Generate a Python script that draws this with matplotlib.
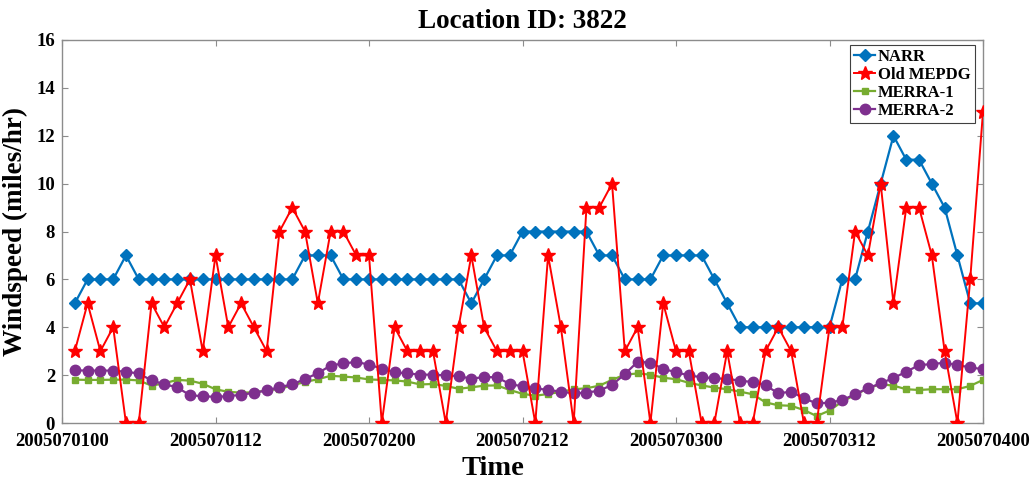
import matplotlib.pyplot as plt
import numpy as np

plt.rcParams['font.family'] = ['Liberation Serif', 'DejaVu Serif']
plt.rcParams['font.weight'] = 'bold'

# hourly windspeed, hours 1..72 after 2005070100
hours = np.arange(1, 73)

narr = [5, 6, 6, 6, 7, 6, 6, 6, 6, 6, 6, 6, 6, 6, 6, 6, 6, 6, 7, 7, 7, 6, 6, 6,
        6, 6, 6, 6, 6, 6, 6, 5, 6, 7, 7, 8, 8, 8, 8, 8, 8, 7, 7, 6, 6, 6, 7, 7,
        7, 7, 6, 5, 4, 4, 4, 4, 4, 4, 4, 4, 6, 6, 8, 10, 12, 11, 11, 10, 9, 7, 5, 5]

old_mepdg = [3, 5, 3, 4, 0, 0, 5, 4, 5, 6, 3, 7, 4, 5, 4, 3, 8, 9, 8, 5, 8, 8, 7, 7,
             0, 4, 3, 3, 3, 0, 4, 7, 4, 3, 3, 3, 0, 7, 4, 0, 9, 9, 10, 3, 4, 0, 5, 3,
             3, 0, 0, 3, 0, 0, 3, 4, 3, 0, 0, 4, 4, 8, 7, 10, 5, 9, 9, 7, 3, 0, 6, 13]

merra1 = [1.81, 1.80, 1.80, 1.81, 1.81, 1.78, 1.56, 1.66, 1.80, 1.77, 1.64, 1.41,
          1.30, 1.27, 1.28, 1.36, 1.42, 1.58, 1.71, 1.83, 1.97, 1.94, 1.90, 1.82,
          1.80, 1.78, 1.73, 1.61, 1.63, 1.55, 1.43, 1.49, 1.56, 1.57, 1.38, 1.22,
          1.14, 1.21, 1.30, 1.41, 1.45, 1.56, 1.80, 2.02, 2.07, 2.02, 1.89, 1.83,
          1.68, 1.57, 1.48, 1.41, 1.31, 1.20, 0.86, 0.74, 0.72, 0.54, 0.29, 0.52,
          0.90, 1.17, 1.45, 1.62, 1.56, 1.41, 1.38, 1.41, 1.41, 1.41, 1.55, 1.80]

merra2 = [2.20, 2.19, 2.19, 2.19, 2.14, 2.07, 1.78, 1.62, 1.49, 1.16, 1.12, 1.09,
          1.12, 1.18, 1.26, 1.36, 1.50, 1.61, 1.84, 2.08, 2.40, 2.49, 2.55, 2.44,
          2.27, 2.12, 2.07, 2.02, 2.02, 1.99, 1.96, 1.85, 1.92, 1.91, 1.63, 1.53,
          1.45, 1.38, 1.31, 1.24, 1.27, 1.35, 1.59, 2.04, 2.56, 2.52, 2.26, 2.12,
          1.99, 1.91, 1.87, 1.84, 1.77, 1.71, 1.57, 1.24, 1.31, 1.03, 0.82, 0.85,
          0.96, 1.20, 1.45, 1.66, 1.88, 2.14, 2.42, 2.46, 2.52, 2.41, 2.33, 2.24]

tick_pos = [0, 12, 24, 36, 48, 60, 72]
tick_labels = ['2005070100', '2005070112', '2005070200', '2005070212',
               '2005070300', '2005070312', '2005070400']

fig = plt.figure(figsize=(10.36, 4.84), dpi=100)
ax = fig.add_axes([62 / 1036, 61 / 484, 921 / 1036, 383 / 484])

ax.plot(hours, narr, color='#0072BD', marker='D', markersize=6.3, lw=1.6,
        label='NARR', zorder=3)
ax.plot(hours, old_mepdg, color='#FF0000', marker='*', markersize=10.5, lw=1.4,
        label='Old MEPDG', zorder=5)
ax.plot(hours, merra1, color='#77AC30', marker='s', markersize=5, lw=1.6,
        label='MERRA-1', zorder=3)
ax.plot(hours, merra2, color='#7E2F8E', marker='o', markersize=7.5, lw=1.6,
        label='MERRA-2', zorder=4)

ax.set_xlim(0, 72)
ax.set_ylim(0, 16)
ax.set_xticks(tick_pos)
ax.set_xticklabels(tick_labels)
ax.set_yticks(range(0, 17, 2))
ax.tick_params(direction='in', length=4, top=True, right=True,
               labelsize=13.5, color='#8c8c8c')
ax.tick_params(axis='x', pad=7)
ax.tick_params(axis='y', pad=5)
for s in ax.spines.values():
    s.set_color('#8c8c8c')
    s.set_linewidth(1.0)

ax.set_title('Location ID: 3822', fontsize=19.5, fontweight='bold', pad=9)
ax.set_xlabel('Time', fontsize=20.5, fontweight='bold')
ax.xaxis.set_label_coords(0.468, -0.085)
ax.set_ylabel('Windspeed (miles/hr)', fontsize=19.5, fontweight='bold', labelpad=6)

leg = ax.legend(loc='upper right', bbox_to_anchor=(0.991, 0.988), borderaxespad=0,
                fancybox=False, edgecolor='#404040', fontsize=12, numpoints=1,
                handlelength=1.3, handletextpad=0.15, labelspacing=0.12,
                borderpad=0.25, framealpha=1)
leg.get_frame().set_linewidth(0.8)

fig.savefig('out.png', dpi=100)
